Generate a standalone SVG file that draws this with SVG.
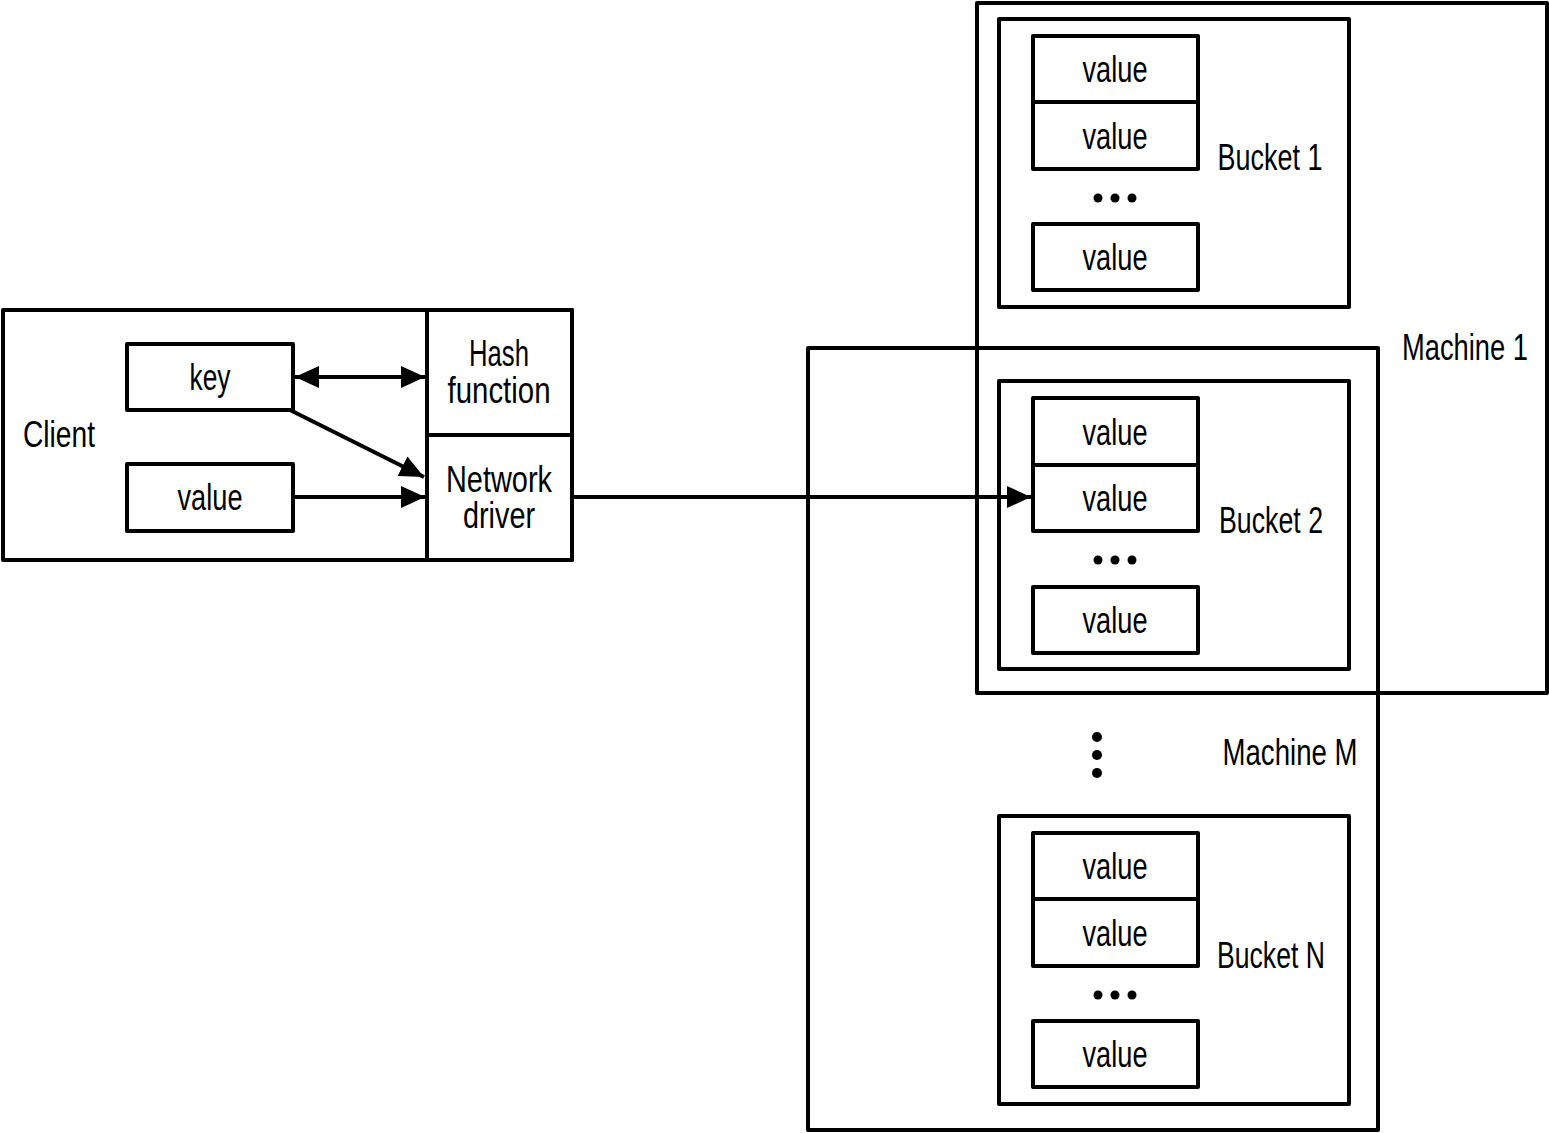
<svg xmlns="http://www.w3.org/2000/svg" width="1549" height="1133" viewBox="0 0 1549 1133">
<style>
.box{fill:none;stroke:#000;stroke-width:4;stroke-linejoin:round}
.ln{fill:none;stroke:#000;stroke-width:4}
text{font-family:"Liberation Sans",Arial,sans-serif;font-size:36px;fill:#000;text-anchor:middle}
.dot{fill:#000}
</style>
<defs>
<marker id="ah" viewBox="0 0 24 22" markerWidth="24" markerHeight="22" refX="24" refY="11" orient="auto-start-reverse" markerUnits="userSpaceOnUse">
<path d="M0,0 L24,11 L0,22 z" fill="#000"/>
</marker>
</defs>
<g id="machineM"><rect class="box" x="808" y="348" width="570" height="782"/><text x="1290" y="765" textLength="135" lengthAdjust="spacingAndGlyphs">Machine M</text></g>
<g id="machine1"><rect class="box" x="977" y="3" width="570" height="690"/><text x="1465" y="360" textLength="126" lengthAdjust="spacingAndGlyphs">Machine 1</text></g>
<g id="client"><rect class="box" x="3" y="310" width="569" height="250"/><text x="59" y="447" textLength="72" lengthAdjust="spacingAndGlyphs">Client</text></g>
<g id="key"><rect class="box" x="127" y="344" width="166" height="66"/><text x="210" y="390" textLength="41" lengthAdjust="spacingAndGlyphs">key</text></g>
<g id="clientValue"><rect class="box" x="127" y="464" width="166" height="67"/><text x="210" y="510" textLength="65" lengthAdjust="spacingAndGlyphs">value</text></g>
<g id="hash"><rect class="box" x="427" y="310" width="145" height="125"/><text x="499" y="366" textLength="60" lengthAdjust="spacingAndGlyphs">Hash</text><text x="499" y="403" textLength="103" lengthAdjust="spacingAndGlyphs">function</text></g>
<g id="network"><rect class="box" x="427" y="435" width="145" height="125"/><text x="499" y="492" textLength="106" lengthAdjust="spacingAndGlyphs">Network</text><text x="499" y="528" textLength="72" lengthAdjust="spacingAndGlyphs">driver</text></g>
<g id="bucket1"><rect class="box" x="999" y="19" width="350" height="288"/>
<rect class="box" x="1033" y="36" width="165" height="66"/><text x="1115" y="82" textLength="65" lengthAdjust="spacingAndGlyphs">value</text>
<rect class="box" x="1033" y="102" width="165" height="67"/><text x="1115" y="149" textLength="65" lengthAdjust="spacingAndGlyphs">value</text>
<circle class="dot" cx="1098" cy="198" r="4.5"/><circle class="dot" cx="1115" cy="198" r="4.5"/><circle class="dot" cx="1132" cy="198" r="4.5"/>
<rect class="box" x="1033" y="224" width="165" height="66"/><text x="1115" y="270" textLength="65" lengthAdjust="spacingAndGlyphs">value</text>
<text x="1270" y="170" textLength="105" lengthAdjust="spacingAndGlyphs">Bucket 1</text></g>
<g id="bucket2"><rect class="box" x="999" y="381" width="350" height="288"/>
<rect class="box" x="1033" y="398" width="165" height="67"/><text x="1115" y="445" textLength="65" lengthAdjust="spacingAndGlyphs">value</text>
<rect class="box" x="1033" y="465" width="165" height="66"/><text x="1115" y="511" textLength="65" lengthAdjust="spacingAndGlyphs">value</text>
<circle class="dot" cx="1098" cy="560" r="4.5"/><circle class="dot" cx="1115" cy="560" r="4.5"/><circle class="dot" cx="1132" cy="560" r="4.5"/>
<rect class="box" x="1033" y="587" width="165" height="66"/><text x="1115" y="633" textLength="65" lengthAdjust="spacingAndGlyphs">value</text>
<text x="1271" y="533" textLength="104" lengthAdjust="spacingAndGlyphs">Bucket 2</text></g>
<g id="machineDots"><circle class="dot" cx="1097" cy="737" r="5"/><circle class="dot" cx="1097" cy="755" r="5"/><circle class="dot" cx="1097" cy="773" r="5"/></g>
<g id="bucketN"><rect class="box" x="999" y="816" width="350" height="288"/>
<rect class="box" x="1033" y="833" width="165" height="66"/><text x="1115" y="879" textLength="65" lengthAdjust="spacingAndGlyphs">value</text>
<rect class="box" x="1033" y="899" width="165" height="67"/><text x="1115" y="946" textLength="65" lengthAdjust="spacingAndGlyphs">value</text>
<circle class="dot" cx="1098" cy="995" r="4.5"/><circle class="dot" cx="1115" cy="995" r="4.5"/><circle class="dot" cx="1132" cy="995" r="4.5"/>
<rect class="box" x="1033" y="1021" width="165" height="66"/><text x="1115" y="1067" textLength="65" lengthAdjust="spacingAndGlyphs">value</text>
<text x="1271" y="968" textLength="108" lengthAdjust="spacingAndGlyphs">Bucket N</text></g>
<g id="connectors">
<line class="ln" x1="295" y1="377" x2="425" y2="377" marker-start="url(#ah)" marker-end="url(#ah)"/>
<line class="ln" x1="290" y1="410" x2="424" y2="477" marker-end="url(#ah)"/>
<line class="ln" x1="293" y1="497" x2="425" y2="497" marker-end="url(#ah)"/>
<line class="ln" x1="572" y1="497" x2="1031" y2="497" marker-end="url(#ah)"/>
</g>
</svg>
